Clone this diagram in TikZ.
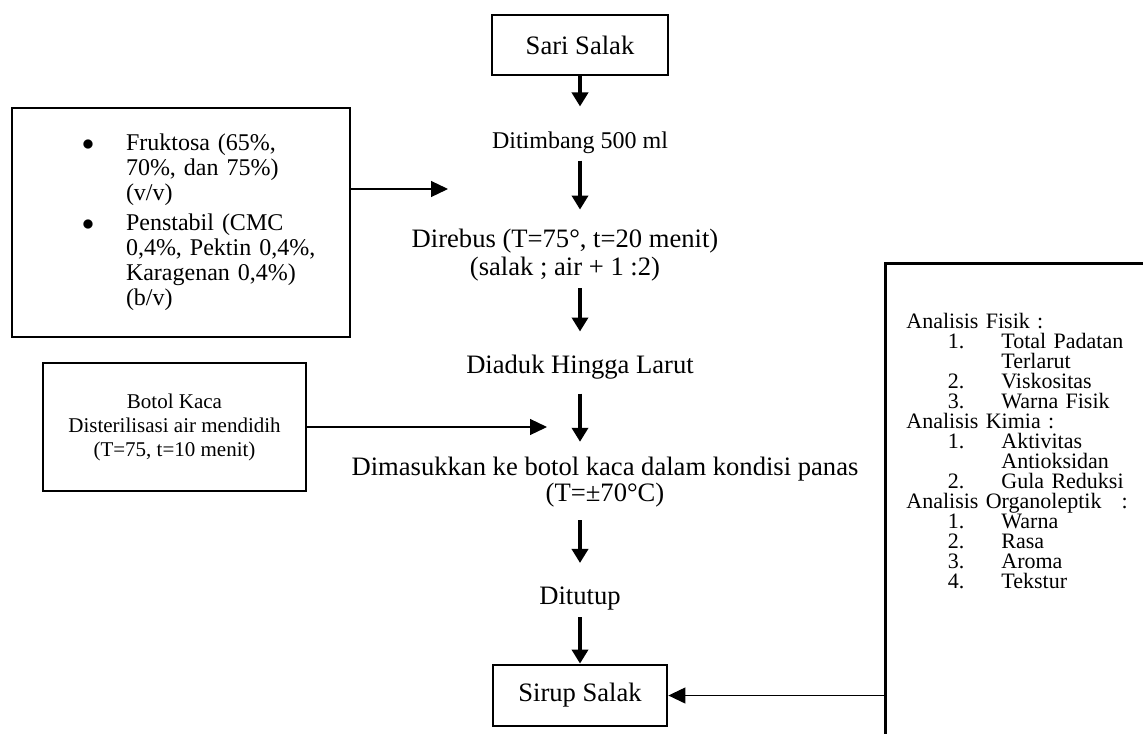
\documentclass[tikz,border=0pt]{standalone}
\usepackage{fontspec}
\setmainfont{Liberation Serif}
\usetikzlibrary{arrows.meta,positioning}
\newcommand{\numline}[2]{\makebox[29pt][r]{#1}\hspace{18.5pt}#2}
\tikzset{%
  % Specifications for style of arrows:
   flow/.style={
           -{Triangle[length=7pt,width=8pt]},
           line width=2pt},
   feed/.style={
           -{Triangle[length=8.5pt,width=8pt]},
           line width=0.6pt},
  % Specifications for style of nodes:
   base/.style = {rectangle, draw=black, line width=1.4pt,
                  minimum width=88pt, minimum height=30pt,
                  align=center},
   tahap/.style = {inner sep=0pt, align=center},
   bahan/.style = {rectangle, draw=black, line width=1.4pt,
                  minimum height=114.5pt, text width=169pt, inner xsep=0pt,
                  align=left, font=\fontsize{12}{12.5}\selectfont},
   botol/.style = {base, minimum width=131.5pt, minimum height=64pt,
                  font=\fontsize{10.5}{12}\selectfont},
   uji/.style = {rectangle, draw=black, line width=1.4pt,
                  inner xsep=10.5pt, inner ysep=25pt, text width=150pt,
                  text depth=250pt, align=left,
                  font=\fontsize{11}{10}\selectfont},
}

\begin{document}
\begin{tikzpicture}[x=0.5pt, y=-0.5pt, node distance=57pt,
    every node/.style={font=\fontsize{13.3}{12.75}\selectfont}]
  \useasboundingbox (0,0) rectangle (1143,733);
  \clip (0,0) rectangle (1143,733);

  % Specification of nodes (position, etc.)
  \node (sari_block)    [base] at (580,45) {Sari Salak};
  \node (timbang_block) [tahap, below of= sari_block, yshift=8.35pt,
                         font=\fontsize{12}{12.75}\selectfont] {Ditimbang 500 ml};
  \node (rebus_block)   [tahap, below of= timbang_block, xshift=-7.5pt, yshift=0.65pt]
    {Direbus (T=75°, t=20 menit)\\[1.2pt](salak ; air + 1 :2)};
  \node (aduk_block)    [tahap, below of= rebus_block, xshift=7.5pt, yshift=1pt] {Diaduk Hingga Larut};
  \node (masuk_block)   [tahap, below of= aduk_block, xshift=12.5pt, yshift=-0.5pt]
    {Dimasukkan ke botol kaca dalam kondisi panas\\(T=±70°C)};
  \node (tutup_block)   [tahap, below of= masuk_block, xshift=-12.5pt, yshift=-1.25pt] {Ditutup};
  \node (sirup_block)   [base, minimum width=87pt, minimum height=30.5pt, below of= tutup_block, yshift=8.5pt] {Sirup Salak};

  \node (bahan_block)   [bahan, left of= rebus_block, xshift=-135pt, yshift=16.25pt]
    {\hspace*{35pt}\begin{tabular}{@{}c@{\hspace{16pt}}l@{}}
      $\bullet$ & Fruktosa (65\%,\\
                & 70\%, dan 75\%)\\
                & (v/v)\\[2.5pt]
      $\bullet$ & Penstabil (CMC\\
                & 0,4\%, Pektin 0,4\%,\\
                & Karagenan 0,4\%)\\
                & (b/v)
    \end{tabular}};
  \node (botol_block)   [botol, left of= masuk_block, xshift=-158.25pt, yshift=27.5pt]
    {Botol Kaca\\Disterilisasi air mendidih\\(T=75, t=10 menit)};
  \node (uji_block)     [uji, right of= aduk_block, anchor=north west, xshift=95pt, yshift=52.5pt]
    {Analisis Fisik :\\
     \numline{1.}{Total Padatan}\\
     \hspace*{47.5pt}Terlarut\\
     \numline{2.}{Viskositas}\\
     \numline{3.}{Warna Fisik}\\
     Analisis Kimia :\\
     \numline{1.}{Aktivitas}\\
     \hspace*{47.5pt}Antioksidan\\
     \numline{2.}{Gula Reduksi}\\
     Analisis Organoleptik\hspace{10pt}:\\
     \numline{1.}{Warna}\\
     \numline{2.}{Rasa}\\
     \numline{3.}{Aroma}\\
     \numline{4.}{Tekstur}};

  \coordinate (fruk_in)  at ([shift={(-66pt,-23.35pt)}]timbang_block.center);
  \coordinate (botol_in) at ([shift={(-16.5pt,-29.5pt)}]aduk_block.center);

  % Specification of lines between nodes
  \draw[flow, shorten >=12.25pt] (sari_block) -- (timbang_block);
  \draw[flow, shorten <=3.5pt, shorten >=9.5pt] (timbang_block) -- (timbang_block |- rebus_block.north);
  \draw[flow, shorten <=3.5pt, shorten >=11.5pt] (rebus_block.south -| aduk_block) -- (aduk_block);
  \draw[flow, shorten <=7pt, shorten >=7.5pt] (aduk_block) -- (aduk_block |- masuk_block.north);
  \draw[flow, shorten <=6.5pt, shorten >=11.75pt] (masuk_block.south -| tutup_block) -- (tutup_block);
  \draw[flow, shorten <=3.25pt] (tutup_block) -- (sirup_block);

  \draw[feed] (bahan_block.east |- fruk_in) -- (fruk_in);
  \draw[feed] (botol_block.east) -- (botol_block.east -| botol_in);
  \draw[feed] (uji_block.west |- sirup_block.east) -- (sirup_block.east);
\end{tikzpicture}
\end{document}
